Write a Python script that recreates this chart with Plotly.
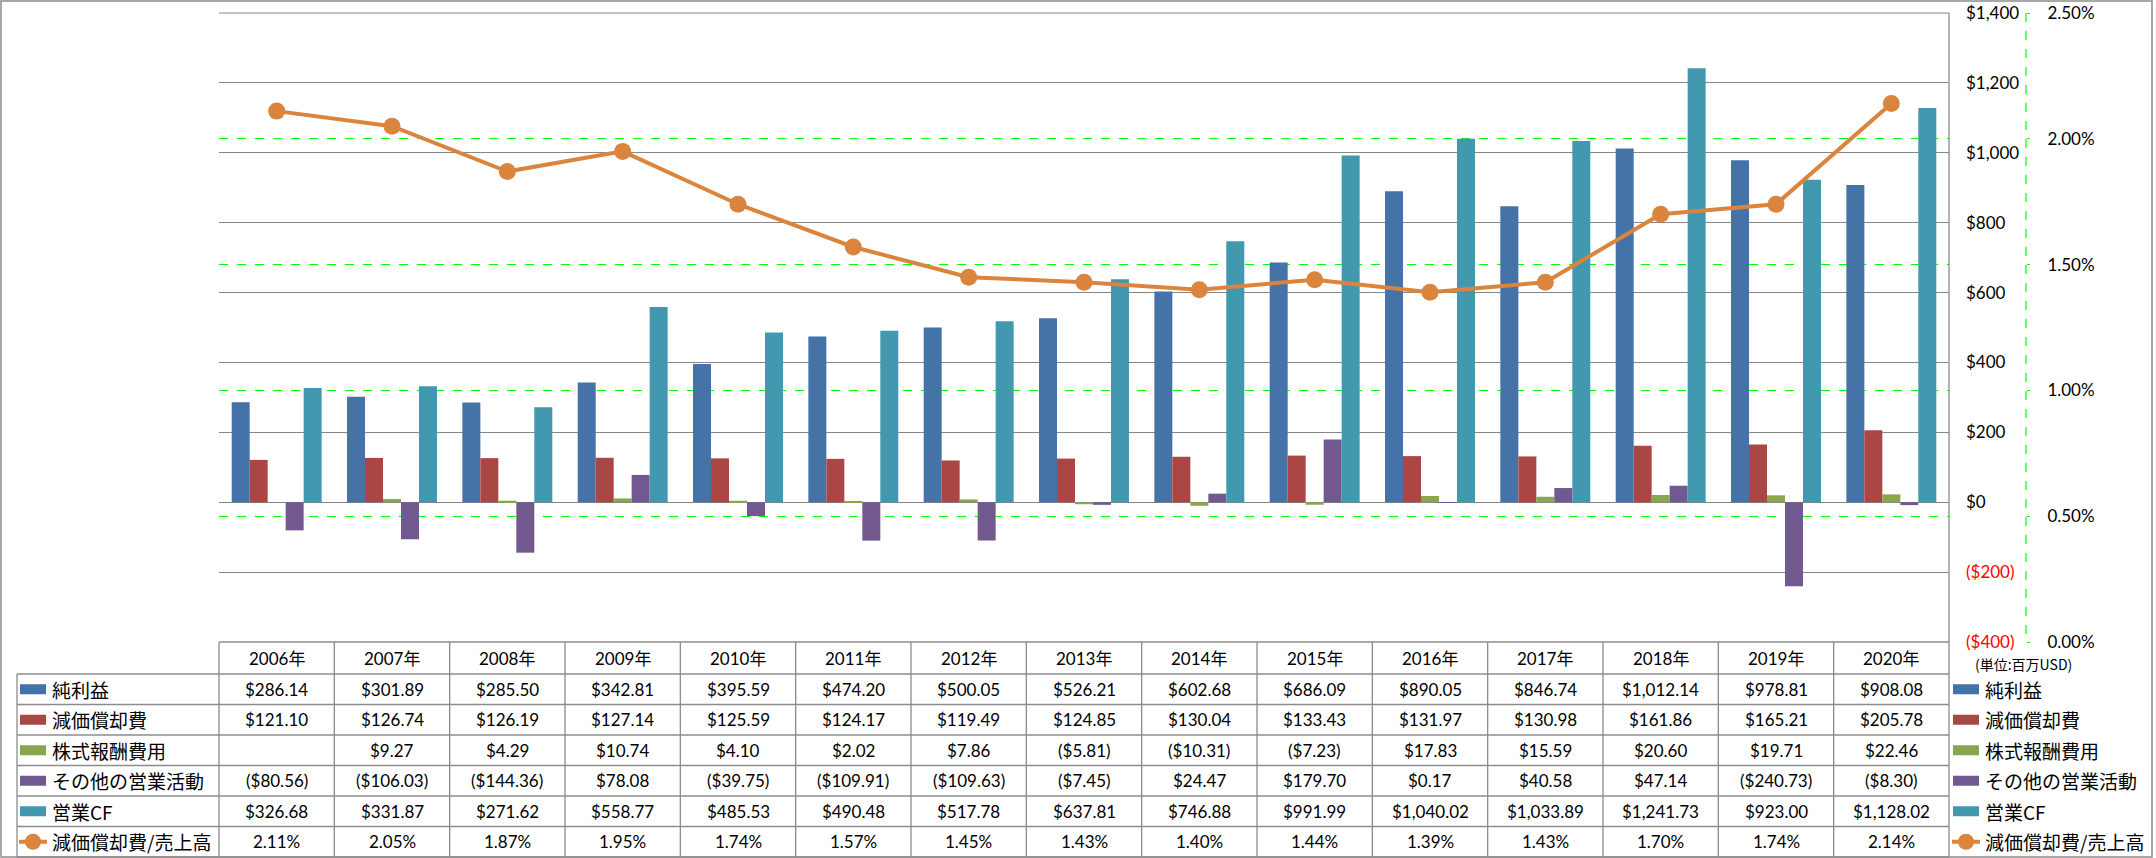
import plotly.graph_objects as go

# ---------------- data ----------------
years = ["2006年", "2007年", "2008年", "2009年", "2010年", "2011年", "2012年", "2013年",
         "2014年", "2015年", "2016年", "2017年", "2018年", "2019年", "2020年"]
net_income = [286.14, 301.89, 285.50, 342.81, 395.59, 474.20, 500.05, 526.21,
              602.68, 686.09, 890.05, 846.74, 1012.14, 978.81, 908.08]
depreciation = [121.10, 126.74, 126.19, 127.14, 125.59, 124.17, 119.49, 124.85,
                130.04, 133.43, 131.97, 130.98, 161.86, 165.21, 205.78]
stock_comp = [None, 9.27, 4.29, 10.74, 4.10, 2.02, 7.86, -5.81,
              -10.31, -7.23, 17.83, 15.59, 20.60, 19.71, 22.46]
other_ops = [-80.56, -106.03, -144.36, 78.08, -39.75, -109.91, -109.63, -7.45,
             24.47, 179.70, 0.17, 40.58, 47.14, -240.73, -8.30]
operating_cf = [326.68, 331.87, 271.62, 558.77, 485.53, 490.48, 517.78, 637.81,
                746.88, 991.99, 1040.02, 1033.89, 1241.73, 923.00, 1128.02]
dep_ratio_pct = [2.11, 2.05, 1.87, 1.95, 1.74, 1.57, 1.45, 1.43,
                 1.40, 1.44, 1.39, 1.43, 1.70, 1.74, 2.14]

bar_names = ["純利益", "減価償却費", "株式報酬費用", "その他の営業活動", "営業CF"]
line_name = "減価償却費/売上高"
usd_ticks = [-400, -200, 0, 200, 400, 600, 800, 1000, 1200, 1400]
pct_ticks = [0.0, 0.5, 1.0, 1.5, 2.0, 2.5]
unit_label = "(単位:百万USD)"

# ---------------- styles ----------------
bar_colors = ["#4572A7", "#AA4643", "#89A54E", "#71588F", "#4198AF"]
line_color = "#DB843D"
grid_gray = "#868686"
table_gray = "#8C8C8C"
green = "#00FF00"
LATIN = "Lato, 'Noto Sans CJK JP', sans-serif"
CJK = "'Noto Sans CJK JP', sans-serif"

FIG_W, FIG_H = 2156, 858
PL, PR = 219, 2056          # paper left/right in pixels
PT, PB = 13, 642            # paper top/bottom in pixels
PLOT_R = 1949               # plot area right edge


def px(xp):
    return (xp - PL) / (PR - PL)


def py(yp):
    return (PB - yp) / (PB - PT)


def money(v):
    if v is None:
        return ""
    s = f"${abs(v):,.2f}"
    return f"({s})" if v < 0 else s


def axis_money(v):
    s = f"${abs(v):,.0f}"
    if v < 0:
        return f"<span style='color:#FF0000'>({s})</span>"
    return s


bar_series = [net_income, depreciation, stock_comp, other_ops, operating_cf]

fig = go.Figure()
for name, vals, col in zip(bar_names, bar_series, bar_colors):
    fig.add_trace(go.Bar(x=years, y=vals, name=name, marker=dict(color=col, line=dict(width=0)),
                         yaxis="y"))
fig.add_trace(go.Scatter(x=years, y=dep_ratio_pct, name=line_name, yaxis="y2",
                         mode="lines+markers",
                         line=dict(color=line_color, width=4),
                         marker=dict(size=17, color=line_color, line=dict(color=line_color, width=0))))

fig.update_layout(
    template="none",
    width=FIG_W, height=FIG_H,
    margin=dict(l=PL, r=FIG_W - PR, t=PT, b=FIG_H - PB, pad=0, autoexpand=False),
    paper_bgcolor="white", plot_bgcolor="white",
    barmode="group", bargap=0.22, bargroupgap=0,
    showlegend=False,
    font=dict(family=LATIN, size=17, color="black"),
    xaxis=dict(domain=[0, px(PLOT_R)], range=[-0.5, len(years) - 0.5], autorange=False,
               showticklabels=False, showgrid=False, automargin=False,
               showline=False, zeroline=False, ticks=""),
    yaxis=dict(side="right", range=[-400, 1400], autorange=False, tickvals=usd_ticks,
               ticktext=[axis_money(v) for v in usd_ticks], automargin=False,
               showgrid=True, gridcolor=grid_gray, gridwidth=1,
               zeroline=False, showline=False, ticks="", ticklabelstandoff=16,
               tickfont=dict(family=LATIN, size=17, color="black")),
    yaxis2=dict(overlaying="y", side="right", anchor="free", position=px(2026),
                range=[0, 2.5], autorange=False, tickvals=pct_ticks,
                ticktext=[f"{v:.2f}%" for v in pct_ticks], automargin=False,
                showgrid=True, gridcolor=green, griddash="dash", gridwidth=1,
                zeroline=False, showline=False, ticks="outside", ticklen=3,
                tickcolor=green, ticklabelstandoff=14,
                tickfont=dict(family=LATIN, size=17, color="black")),
)

shapes = []


def hline(y, x0, x1, color=table_gray, width=1.3, dash="solid"):
    shapes.append(dict(type="line", xref="paper", yref="paper", x0=px(x0), x1=px(x1),
                       y0=py(y), y1=py(y), line=dict(color=color, width=width, dash=dash)))


def vline(x, y0, y1, color=table_gray, width=1.3, dash="solid"):
    shapes.append(dict(type="line", xref="paper", yref="paper", x0=px(x), x1=px(x),
                       y0=py(y0), y1=py(y1), line=dict(color=color, width=width, dash=dash)))


# outer frame
shapes.append(dict(type="rect", xref="paper", yref="paper", x0=px(1), x1=px(2152),
                   y0=py(857), y1=py(1), line=dict(color=table_gray, width=1.5)))

# top gridline of the plot area (at the axis maximum)
hline(PT, PL, PLOT_R, color=grid_gray, width=1)

# table grid
row_edges = [642, 674, 704.5, 735, 765.5, 796, 826.5, 857]
col_w = (PLOT_R - PL) / len(years)
TABLE_L = 17
hline(row_edges[0], PL, PLOT_R)
for y in row_edges[1:]:
    hline(y, TABLE_L, PLOT_R)
vline(TABLE_L, row_edges[1], row_edges[-1])
for k in range(len(years)):
    vline(PL + k * col_w, row_edges[0], row_edges[-1])
vline(PLOT_R, PT, row_edges[-1])
# secondary axis dashed line
vline(2026, PT, PB, color=green, width=1.2, dash="dash")

annotations = []
row_centers = [(row_edges[i] + row_edges[i + 1]) / 2 for i in range(len(row_edges) - 1)]

# header row
for yr in years:
    annotations.append(dict(x=yr, xref="x", y=py(row_centers[0]), yref="paper",
                            text=yr, showarrow=False, xanchor="center", yanchor="middle",
                            font=dict(family=LATIN, size=17, color="black")))

table_rows = bar_series + [dep_ratio_pct]
for r, vals in enumerate(table_rows):
    yc = row_centers[r + 1]
    for yr, v in zip(years, vals):
        if r < len(bar_series):
            txt = money(v)
        else:
            txt = f"{v:.2f}%"
        if txt == "":
            continue
        annotations.append(dict(x=yr, xref="x", y=py(yc), yref="paper", text=txt,
                                showarrow=False, xanchor="center", yanchor="middle",
                                font=dict(family=LATIN, size=17, color="black")))

# legend keys (left in table and right side)
all_names = bar_names + [line_name]
for r, name in enumerate(all_names):
    yc = row_centers[r + 1]
    for key_x0, text_x in ((20, 50), (1953, 1983)):
        if r < len(bar_names):
            shapes.append(dict(type="rect", xref="paper", yref="paper",
                               x0=px(key_x0), x1=px(key_x0 + 26), y0=py(yc + 5), y1=py(yc - 5),
                               fillcolor=bar_colors[r], line=dict(width=0)))
        else:
            shapes.append(dict(type="line", xref="paper", yref="paper",
                               x0=px(key_x0 - 1), x1=px(key_x0 + 27), y0=py(yc), y1=py(yc),
                               line=dict(color=line_color, width=4)))
            cx = key_x0 + 13
            shapes.append(dict(type="circle", xref="paper", yref="paper",
                               x0=px(cx - 8), x1=px(cx + 8), y0=py(yc + 8), y1=py(yc - 8),
                               fillcolor=line_color, line=dict(width=0)))
        annotations.append(dict(x=px(text_x), xref="paper", y=py(yc), yref="paper",
                                text=name, showarrow=False, xanchor="left", yanchor="middle",
                                font=dict(family=CJK, size=19, color="black")))

annotations.append(dict(x=px(2023), xref="paper", y=py(664), yref="paper", text=unit_label,
                        showarrow=False, xanchor="center", yanchor="middle",
                        font=dict(family=CJK, size=14, color="black")))

fig.update_layout(shapes=shapes, annotations=annotations)
fig.write_html("out.html", config={"displayModeBar": False},
               post_script="document.body.style.margin='0px';")
